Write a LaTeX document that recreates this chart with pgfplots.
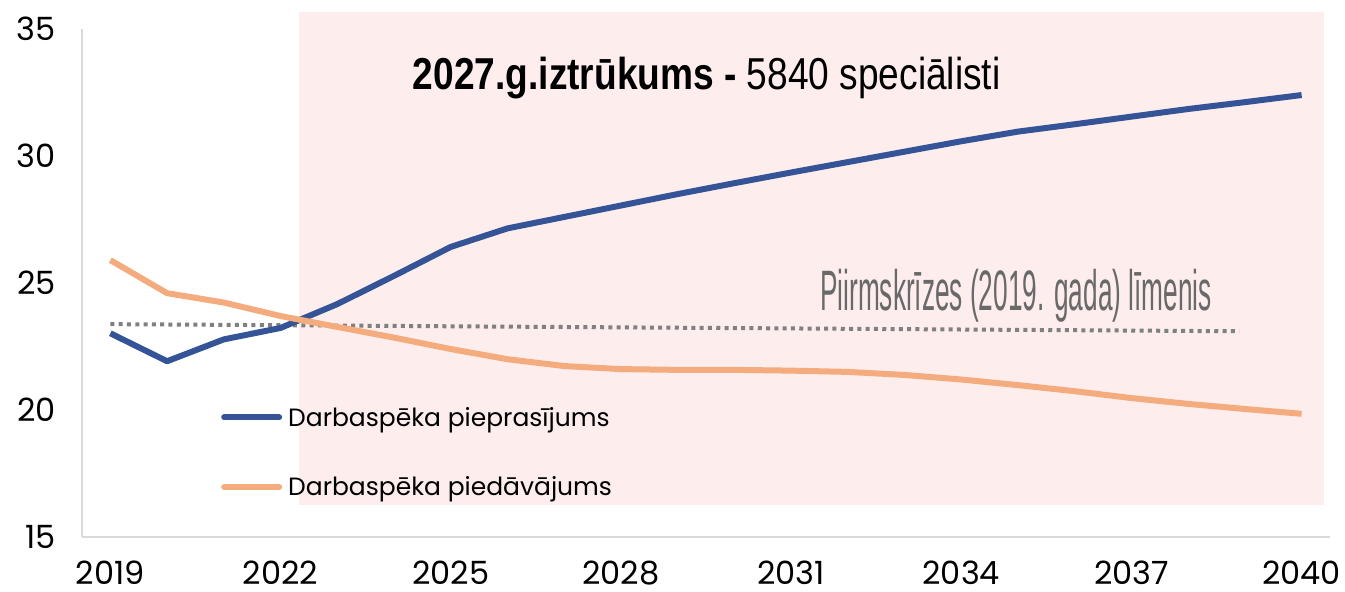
\documentclass[border=0pt]{standalone}
\usepackage{pgfplots}
\pgfplotsset{compat=1.18}
\usepackage{fontspec}
\setmainfont{Poppins}
\newfontfamily\tickfont{Poppins}
\newfontfamily\titlefont[FakeStretch=0.83]{Liberation Sans}
\newfontfamily\notefont[FakeStretch=0.46]{Liberation Sans}
\definecolor{dblue}{RGB}{52,84,151}
\definecolor{dorange}{RGB}{244,172,126}
\definecolor{pinkbg}{RGB}{253,237,237}
\definecolor{axgray}{RGB}{217,217,217}
\definecolor{dotgray}{RGB}{128,128,128}
\definecolor{notegray}{RGB}{105,105,105}
\begin{document}
\begin{tikzpicture}
\useasboundingbox (-82pt,-55pt) rectangle (1263pt,537pt);
\begin{axis}[
  scale only axis, width=1248pt, height=508pt,
  xmin=2018.5, xmax=2040.5, ymin=15, ymax=35,
  clip=false,
  axis x line*=bottom, axis y line*=left,
  axis line style={draw=axgray, line width=1.5pt},
  xtick={2019,2022,2025,2028,2031,2034,2037,2040},
  xticklabels={2019,2022,2025,2028,2031,2034,2037,2040},
  ytick={15,20,25,30,35},
  yticklabels={15,20,25,30,35},
  major tick length=0pt,
  tick label style={font=\tickfont\fontsize{32}{38}\selectfont, inner sep=0pt},
  xticklabel style={anchor=north, yshift=-24pt},
  yticklabel style={anchor=east, xshift=-26pt},
  legend style={at={(axis cs:2020.95,20.12)}, anchor=north west, draw=none, fill=none,
    inner sep=0pt, row sep=49pt, font=\fontsize{25}{30}\selectfont,
    nodes={inner sep=0pt}, column sep=6pt},
  legend cell align=left,
  legend image code/.code={\draw[#1, line cap=round] (0pt,0pt) -- (55pt,0pt);},
]
\addplot[fill=pinkbg, draw=none, forget plot] coordinates {(2022.33,16.26) (2040.39,16.26) (2040.39,35.67) (2022.33,35.67)};
\addplot[dotgray, line width=4pt, dash pattern=on 4pt off 4.3pt, forget plot] coordinates {(2019,23.38) (2038.9,23.10)};
\addplot[dblue, line width=6pt, line join=round] coordinates {
(2019,23.02) (2020,21.92) (2021,22.78) (2022,23.23) (2023,24.17) (2024,25.28) (2025,26.42)
(2026,27.15) (2027,27.60) (2028,28.05) (2029,28.50) (2030,28.93) (2031,29.35) (2032,29.76)
(2033,30.17) (2034,30.58) (2035,30.96) (2036,31.25) (2037,31.55) (2038,31.85) (2039,32.12) (2040,32.40)};
\addlegendentry{Darbaspēka pieprasījums}
\addplot[dorange, line width=6pt, line join=round] coordinates {
(2019,25.90) (2020,24.60) (2021,24.23) (2022,23.70) (2023,23.27) (2024,22.85) (2025,22.40)
(2026,22.00) (2027,21.73) (2028,21.61) (2029,21.58) (2030,21.58) (2031,21.55) (2032,21.50)
(2033,21.38) (2034,21.20) (2035,20.98) (2036,20.74) (2037,20.47) (2038,20.24) (2039,20.04) (2040,19.85)};
\addlegendentry{Darbaspēka piedāvājums}
\node[anchor=base west, inner sep=0pt] at (axis cs:2024.33,32.6)
  {\titlefont\fontsize{44.7}{50}\selectfont\bfseries 2027.g.iztrūkums - \mdseries 5840 speciālisti};
\node[anchor=base west, inner sep=0pt, text=notegray] at (axis cs:2031.51,23.9)
  {\notefont\fontsize{57}{60}\selectfont Piirmskrīzes (2019. gada) līmenis};
\end{axis}
\end{tikzpicture}
\end{document}
